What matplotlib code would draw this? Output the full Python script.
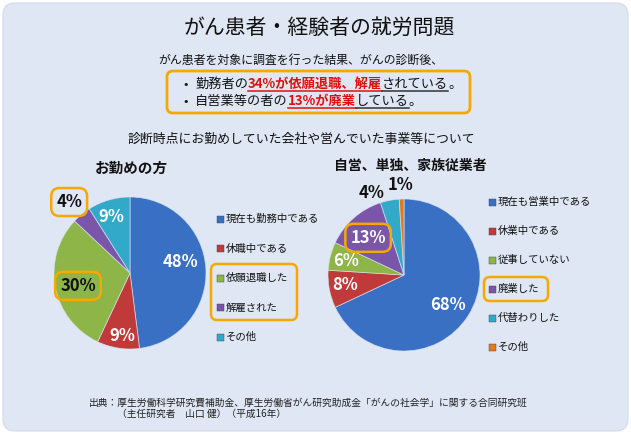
import matplotlib
matplotlib.use('Agg')
import matplotlib.pyplot as plt
from matplotlib.patches import FancyBboxPatch, Rectangle
from matplotlib.transforms import IdentityTransform
from matplotlib.lines import Line2D
import numpy as np

plt.rcParams['font.family'] = ['Noto Sans CJK JP', 'DejaVu Sans']

W, H = 631, 434

# ---------------- data ----------------
title = 'がん患者・経験者の就労問題'
subtitle = 'がん患者を対象に調査を行った結果、がんの診断後、'
heading = '診断時点にお勤めしていた会社や営んでいた事業等について'
emp_title = 'お勤めの方'
emp_labels = ['現在も勤務中である', '休職中である', '依願退職した', '解雇された', 'その他']
emp_values = [48, 9, 30, 4, 9]
self_title = '自営、単独、家族従業者'
self_labels = ['現在も営業中である', '休業中である', '従事していない', '廃業した', '代替わりした', 'その他']
self_values = [68, 8, 6, 13, 4, 1]
source1 = '出典：厚生労働科学研究費補助金、厚生労働省がん研究助成金「がんの社会学」に関する合同研究班'
source2 = '（主任研究者　山口 健）（平成16年）'

# ---------------- style ----------------
colors = ['#3A70C4', '#C03A3A', '#8DB548', '#7B55A8', '#33A9CA', '#E3781C']
ORANGE = '#F5A800'
RED = '#E01010'
DARK = '#111111'

fig = plt.figure(figsize=(W / 100, H / 100), dpi=100)
fig.patch.set_facecolor('white')
I = IdentityTransform()


def Y(y):
    return H - y


bg = FancyBboxPatch((3, 3), W - 6, H - 6, boxstyle='round,pad=0,rounding_size=12',
                    transform=I, fc='#DFE7F4', ec='#D3DBE8', lw=0.8, zorder=-10)
fig.add_artist(bg)


def rbox(x0, y0, x1, y1, lw=1.8):
    p = FancyBboxPatch((x0, Y(y1)), x1 - x0, y1 - y0,
                       boxstyle='round,pad=0,rounding_size=6',
                       transform=I, fc='none', ec=ORANGE, lw=lw, zorder=5)
    fig.add_artist(p)


# titles
fig.text(W / 2 + 4, Y(28), title, transform=I, fontsize=15, ha='center', va='center', color=DARK)
fig.text(301, Y(60), subtitle, transform=I, fontsize=8.6, ha='center', va='center', color=DARK)

renderer = fig.canvas.get_renderer()


def rich_line(x, y, segs, fs):
    for txt, col, bold, ul in segs:
        t = fig.text(x, Y(y), txt, transform=I, fontsize=fs, color=col,
                     fontweight='bold' if bold else 'normal', va='baseline', ha='left')
        bb = t.get_window_extent(renderer)
        if ul:
            fig.add_artist(Line2D([bb.x0, bb.x1], [Y(y) - 2.5] * 2, transform=I,
                                  color=ul, lw=1.1))
        x = bb.x1


fig.text(183, Y(88), '•', transform=I, fontsize=9.5, ha='left', va='baseline', color=DARK)
fig.text(183, Y(105), '•', transform=I, fontsize=9.5, ha='left', va='baseline', color=DARK)
rich_line(195, 88, [('勤務者の', DARK, False, None),
                    ('34%が依願退職、解雇', RED, True, RED),
                    ('されている', DARK, False, '#333333'),
                    ('。', DARK, False, None)], 9.5)
rich_line(195, 105, [('自営業等の者の', DARK, False, None),
                     ('13%が廃業', RED, True, RED),
                     ('している', DARK, False, '#333333'),
                     ('。', DARK, False, None)], 9.5)
rbox(167, 71, 470, 113, lw=2)

fig.text(301, Y(139), heading, transform=I, fontsize=9.3, ha='center', va='center',
         color=DARK)
fig.text(131, Y(168), emp_title, transform=I, fontsize=10.5, ha='center', va='center',
         color=DARK, fontweight='bold')
fig.text(410, Y(166), self_title, transform=I, fontsize=10, ha='center', va='center',
         color=DARK, fontweight='bold')


def pie_axes(cx, cy, r):
    ax = fig.add_axes([(cx - r) / W, (H - cy - r) / H, 2 * r / W, 2 * r / H])
    ax.set_facecolor('none')
    return ax


def draw_pie(ax, values, cols, dists, nudges, tcolors, boxed):
    ax.pie(values, colors=cols, startangle=90, counterclock=False, radius=1,
           wedgeprops=dict(linewidth=0.6, edgecolor=(0.85, 0.9, 0.97, 0.7)))
    ax.set_xlim(-1, 1)
    ax.set_ylim(-1, 1)
    ax.set_aspect('equal')
    ax.axis('off')
    total = float(sum(values))
    cum = 0.0
    for i, v in enumerate(values):
        mid = 90 - (cum + v / 2) / total * 360 + nudges[i]
        cum += v
        x = dists[i] * np.cos(np.radians(mid))
        y = dists[i] * np.sin(np.radians(mid))
        kw = {}
        if boxed[i]:
            kw['bbox'] = dict(boxstyle='round,pad=0.3,rounding_size=0.5', fc='none',
                              ec=ORANGE, lw=1.8)
        ax.text(x, y, f'{v}%', ha='center', va='center', color=tcolors[i],
                fontsize=12, fontweight='bold', clip_on=False, zorder=6, **kw)


ax1 = pie_axes(130, 273, 76)
draw_pie(ax1, emp_values, colors[:5],
         dists=[0.675, 0.835, 0.705, 1.23, 0.78],
         nudges=[8.8, 2, 3, 1, 2.5],
         tcolors=['white', 'white', DARK, DARK, 'white'],
         boxed=[False, False, True, True, False])

ax2 = pie_axes(404, 275, 76)
draw_pie(ax2, self_values, colors[:6],
         dists=[0.70, 0.79, 0.785, 0.68, 1.16, 1.18],
         nudges=[-1.6, -1.3, 0.8, 2.6, 11, 0.2],
         tcolors=['white', 'white', 'white', 'white', DARK, DARK],
         boxed=[False, False, False, True, False, False])


def legend(x, y0, dy, labels, cols):
    for i, (lab, c) in enumerate(zip(labels, cols)):
        y = y0 + i * dy
        fig.add_artist(Rectangle((x - 3.5, Y(y) - 3.5), 7, 7, transform=I, fc=c,
                                 ec='#404040', lw=0.3))
        fig.text(x + 6, Y(y), lab, transform=I, fontsize=7.5, va='center', ha='left',
                 color=DARK)


legend(220, 219, 29.5, emp_labels, colors[:5])
legend(492, 202, 29, self_labels, colors[:6])
rbox(211, 264, 297, 320)
rbox(484, 277, 548, 301)

fig.text(89, Y(403), source1, transform=I, fontsize=7, ha='left', va='center', color='#222222')
fig.text(117, Y(414), source2, transform=I, fontsize=7, ha='left', va='center', color='#222222')

fig.savefig('out.png', dpi=100, facecolor='white')
